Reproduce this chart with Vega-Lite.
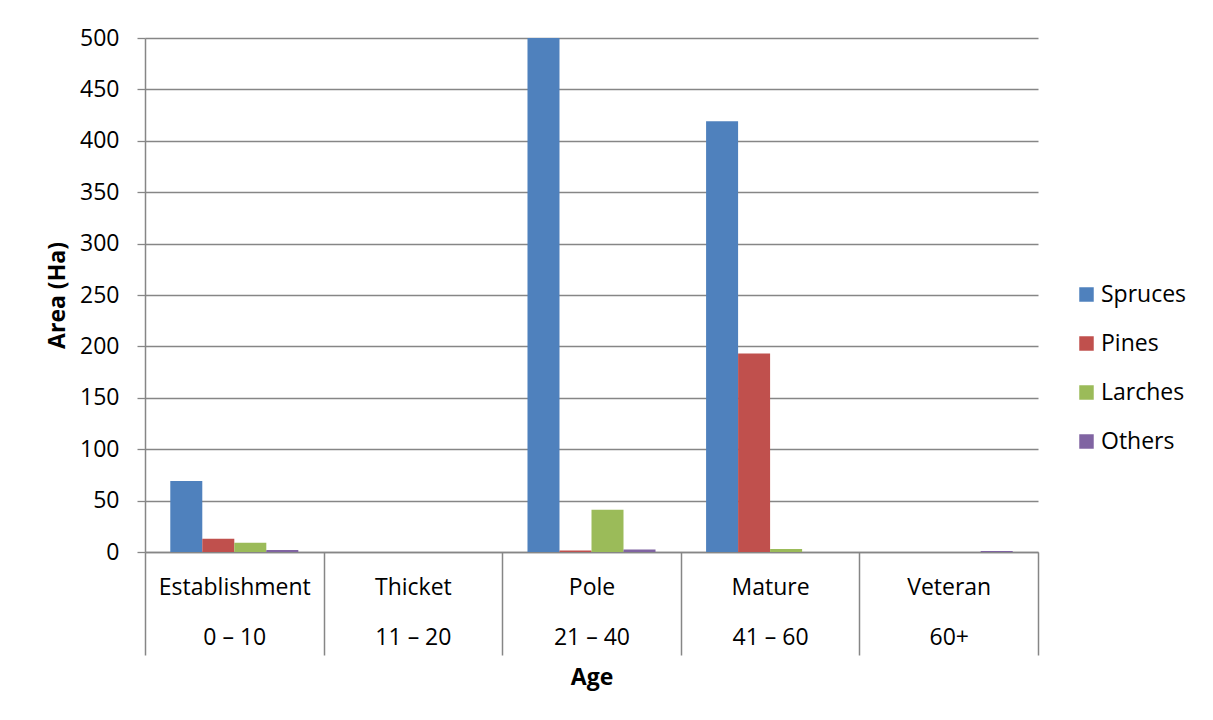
{
  "$schema": "https://vega.github.io/schema/vega-lite/v6.json",
  "width": 893,
  "height": 514,
  "autosize": {"type": "none"},
  "padding": {"left": 145, "top": 38, "right": 175, "bottom": 168},
  "background": "white",
  "data": {
    "values": [
      {"stage": "Establishment|0 – 10", "species": "Spruces", "area": 69},
      {"stage": "Establishment|0 – 10", "species": "Pines", "area": 13},
      {"stage": "Establishment|0 – 10", "species": "Larches", "area": 9},
      {"stage": "Establishment|0 – 10", "species": "Others", "area": 2},
      {"stage": "Thicket|11 – 20", "species": "Spruces", "area": 0},
      {"stage": "Thicket|11 – 20", "species": "Pines", "area": 0},
      {"stage": "Thicket|11 – 20", "species": "Larches", "area": 0},
      {"stage": "Thicket|11 – 20", "species": "Others", "area": 0},
      {"stage": "Pole|21 – 40", "species": "Spruces", "area": 500},
      {"stage": "Pole|21 – 40", "species": "Pines", "area": 1.5},
      {"stage": "Pole|21 – 40", "species": "Larches", "area": 41},
      {"stage": "Pole|21 – 40", "species": "Others", "area": 2.5},
      {"stage": "Mature|41 – 60", "species": "Spruces", "area": 419},
      {"stage": "Mature|41 – 60", "species": "Pines", "area": 193},
      {"stage": "Mature|41 – 60", "species": "Larches", "area": 3},
      {"stage": "Mature|41 – 60", "species": "Others", "area": 0},
      {"stage": "Veteran|60+", "species": "Spruces", "area": 0},
      {"stage": "Veteran|60+", "species": "Pines", "area": 0},
      {"stage": "Veteran|60+", "species": "Larches", "area": 0},
      {"stage": "Veteran|60+", "species": "Others", "area": 1}
    ]
  },
  "mark": {"type": "bar"},
  "encoding": {
    "x": {
      "field": "stage",
      "type": "nominal",
      "sort": null,
      "scale": {"paddingInner": 0, "paddingOuter": 0},
      "axis": {
        "title": "Age",
        "labelAngle": 0,
        "labelExpr": "split(datum.label, '|')",
        "labelLineHeight": 50,
        "labelBaseline": "top",
        "labelPadding": -79,
        "tickBand": "extent",
        "tickSize": 103,
        "tickColor": "#868686",
        "tickWidth": 1.5,
        "domainColor": "#868686",
        "domainWidth": 1.5,
        "titlePadding": 11
      }
    },
    "xOffset": {
      "field": "species",
      "type": "nominal",
      "sort": ["Spruces", "Pines", "Larches", "Others"],
      "scale": {"paddingInner": 0, "paddingOuter": 0.79}
    },
    "y": {
      "field": "area",
      "type": "quantitative",
      "scale": {"domain": [0, 500], "nice": false},
      "axis": {
        "title": "Area (Ha)",
        "values": [0, 50, 100, 150, 200, 250, 300, 350, 400, 450, 500],
        "grid": true,
        "gridColor": "#868686",
        "gridWidth": 1.3,
        "tickSize": 8,
        "tickColor": "#868686",
        "tickWidth": 1.3,
        "domainColor": "#868686",
        "domainWidth": 1.5,
        "labelPadding": 18,
        "titlePadding": 10
      }
    },
    "color": {
      "field": "species",
      "type": "nominal",
      "sort": ["Spruces", "Pines", "Larches", "Others"],
      "scale": {
        "domain": ["Spruces", "Pines", "Larches", "Others"],
        "range": ["#4F81BD", "#C0504D", "#9BBB59", "#8064A2"]
      },
      "legend": {
        "title": null,
        "orient": "none",
        "legendX": 930,
        "legendY": 245,
        "symbolType": "square",
        "symbolSize": 210,
        "symbolStrokeWidth": 0,
        "symbolOpacity": 1,
        "rowPadding": 25,
        "labelOffset": 3,
        "padding": 0
      }
    }
  },
  "config": {
    "font": "Open Sans",
    "view": {"stroke": null},
    "axis": {
      "labelFont": "Open Sans",
      "labelFontSize": 23,
      "labelColor": "#000000",
      "titleFont": "Open Sans",
      "titleFontSize": 23,
      "titleFontWeight": "bold",
      "titleColor": "#000000"
    },
    "legend": {
      "labelFont": "Open Sans",
      "labelFontSize": 23,
      "labelColor": "#000000",
      "labelLimit": 300
    }
  }
}
